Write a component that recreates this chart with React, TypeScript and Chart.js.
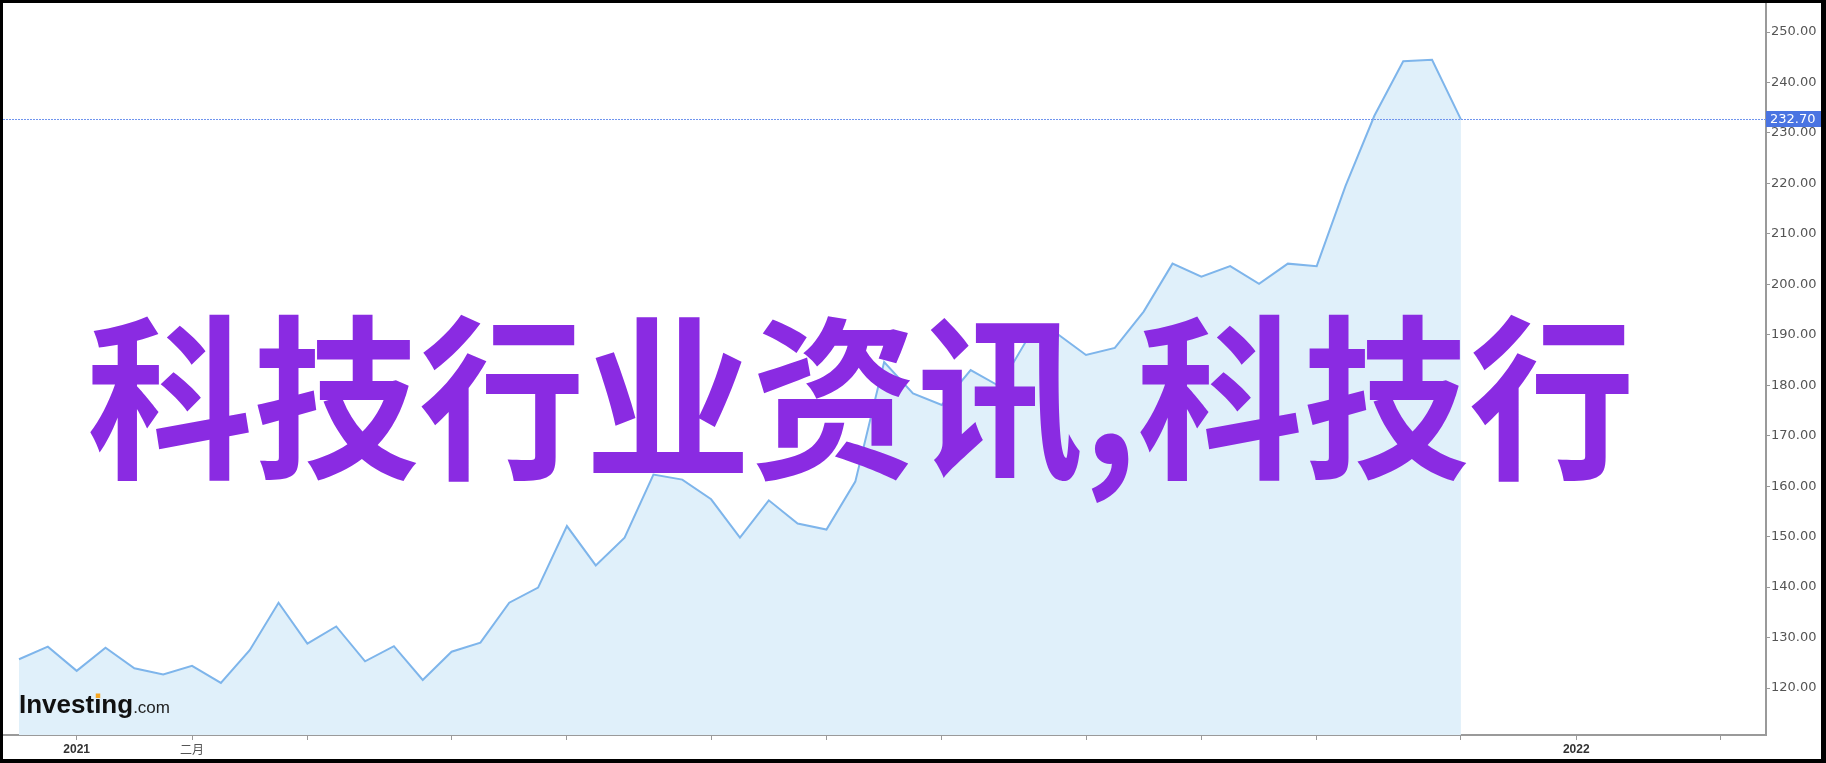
import React, { useEffect, useRef } from "react";
import { Chart, registerables } from "chart.js";

Chart.register(...registerables);

// weekly points (Mondays) starting 2020-12-21
const weekIndex: number[] = [
  0, 1, 2, 3, 4, 5, 6, 7, 8, 9, 10, 11, 12, 13, 14, 15, 16, 17, 18, 19, 20, 21, 22, 23, 24, 25,
  26, 27, 28, 29, 30, 31, 32, 33, 34, 35, 36, 37, 38, 39, 40, 41, 42, 43, 44, 45, 46, 47, 48, 49, 50,
];
const prices: number[] = [
  125.7, 128.2, 123.4, 128.0, 123.9, 122.7, 124.4, 121.0, 127.5, 136.9,
  128.8, 132.2, 125.3, 128.3, 121.6, 127.2, 129.0, 136.9, 139.9, 152.1,
  144.3, 149.8, 162.3, 161.3, 157.4, 149.8, 157.2, 152.6, 151.4, 160.9,
  184.6, 178.4, 176.1, 183.0, 179.8, 189.5, 190.2, 186.0, 187.4, 194.6,
  204.1, 201.5, 203.6, 200.1, 204.1, 203.6, 219.5, 233.4, 244.2, 244.5,
  232.7,
];
const monthTickIndex: number[] = [2, 6, 10, 15, 19, 24, 28, 32, 37, 41, 45, 50, 54, 59];
const monthTickLabels: string[] = ["2021", "二月", "", "", "", "", "", "", "", "", "", "", "2022", ""];
const yearLabels: string[] = ["2021", "2022"];
const yTicks: number[] = [120, 130, 140, 150, 160, 170, 180, 190, 200, 210, 220, 230, 240, 250];
const lastPrice = 232.7;
const watermark = "科技行业资讯,科技行";

const overlayPlugin = {
  id: "overlay",
  afterDatasetsDraw(chart: any) {
    const { ctx, chartArea, scales } = chart;
    const yy = Math.round(scales.y.getPixelForValue(lastPrice)) + 0.5;
    ctx.save();
    ctx.strokeStyle = "#7095ee";
    ctx.lineWidth = 1;
    ctx.setLineDash([2, 1]);
    ctx.beginPath();
    ctx.moveTo(chartArea.left, yy);
    ctx.lineTo(chartArea.right, yy);
    ctx.stroke();
    ctx.restore();
  },
  afterDraw(chart: any) {
    const { ctx, chartArea, scales, width } = chart;
    const yy = Math.round(scales.y.getPixelForValue(lastPrice));
    ctx.save();
    // price box
    ctx.fillStyle = "#4a74e2";
    ctx.fillRect(chartArea.right, yy - 8, width - chartArea.right, 16);
    ctx.fillStyle = "#ffffff";
    ctx.font = "13px 'DejaVu Sans'";
    ctx.textAlign = "left";
    ctx.textBaseline = "middle";
    ctx.fillText(lastPrice.toFixed(2), chartArea.right + 4, yy + 1);

    // logo
    const lx = 16;
    const lb = 710;
    ctx.fillStyle = "#111111";
    ctx.font = "bold 26px 'Liberation Sans', Arial";
    ctx.textBaseline = "alphabetic";
    ctx.fillText("Investing", lx, lb);
    const wInv = ctx.measureText("Investing").width;
    const wPre = ctx.measureText("Invest").width;
    const wi = ctx.measureText("i").width;
    ctx.fillStyle = "#f5a623";
    ctx.fillRect(lx + wPre + wi / 2 - 2, lb - 19.5, 4.5, 4.5);
    ctx.fillStyle = "#222222";
    ctx.font = "17px 'Liberation Sans', Arial";
    ctx.fillText(".com", lx + wInv, lb);

    // watermark
    ctx.fillStyle = "#8a2be2";
    ctx.font = "bold 166px 'Noto Sans CJK SC'";
    ctx.textBaseline = "middle";
    ctx.translate(84, 395);
    ctx.scale(1, 1.06);
    ctx.fillText(watermark, 0, 0);
    ctx.restore();
  },
};

export default function App() {
  const ref = useRef<HTMLCanvasElement | null>(null);
  useEffect(() => {
    if (!ref.current) return;
    const chart = new Chart(ref.current, {
      type: "line",
      data: {
        datasets: [
          {
            data: weekIndex.map((x, i) => ({ x, y: prices[i] })),
            borderColor: "#7eb5eb",
            backgroundColor: "#e0f0fa",
            borderWidth: 2,
            fill: "start",
            pointRadius: 0,
            tension: 0,
          },
        ],
      },
      options: {
        animation: false,
        responsive: false,
        devicePixelRatio: 1,
        layout: { padding: 0 },
        plugins: { legend: { display: false }, tooltip: { enabled: false } },
        scales: {
          x: {
            type: "linear",
            min: -0.555,
            max: 60.58,
            afterBuildTicks: (scale: any) => {
              scale.ticks = monthTickIndex.map((v) => ({ value: v }));
            },
            afterFit: (scale: any) => {
              scale.height = 24;
              scale.paddingLeft = 0;
              scale.paddingRight = 0;
            },
            grid: { drawOnChartArea: false, drawTicks: true, tickLength: 5, color: "#9a9a9a" },
            border: { display: true, color: "#9a9a9a", width: 2 },
            ticks: {
              autoSkip: false,
              maxRotation: 0,
              padding: 2,
              callback: (_v: any, i: number) => monthTickLabels[i],
              color: (c: any) => (yearLabels.includes(monthTickLabels[c.index]) ? "#333333" : "#555555"),
              font: (c: any) =>
                yearLabels.includes(monthTickLabels[c.index])
                  ? { family: "'Liberation Sans', Arial", size: 12, weight: "bold" }
                  : { family: "'Noto Sans CJK SC'", size: 12, weight: "normal" },
            },
          },
          y: {
            type: "linear",
            position: "right",
            min: 110.69,
            max: 255.75,
            afterBuildTicks: (scale: any) => {
              scale.ticks = yTicks.map((v) => ({ value: v }));
            },
            afterFit: (scale: any) => {
              scale.width = 55;
              scale.paddingTop = 0;
              scale.paddingBottom = 0;
            },
            grid: { drawOnChartArea: false, drawTicks: true, tickLength: 4, color: "#9a9a9a" },
            border: { display: true, color: "#9a9a9a", width: 2 },
            ticks: {
              padding: 1,
              color: "#555555",
              font: { family: "'DejaVu Sans'", size: 13 },
              callback: (v: any) => Number(v).toFixed(2),
            },
          },
        },
      },
      plugins: [overlayPlugin],
    } as any);
    return () => chart.destroy();
  }, []);

  return (
    <div
      style={{
        position: "absolute",
        left: 0,
        top: 0,
        width: 1826,
        height: 763,
        background: "#000000",
        boxSizing: "border-box",
        padding: "3px 5px 4px 3px",
      }}
    >
      <canvas ref={ref} width={1818} height={756} style={{ display: "block", background: "#ffffff" }} />
    </div>
  );
}
